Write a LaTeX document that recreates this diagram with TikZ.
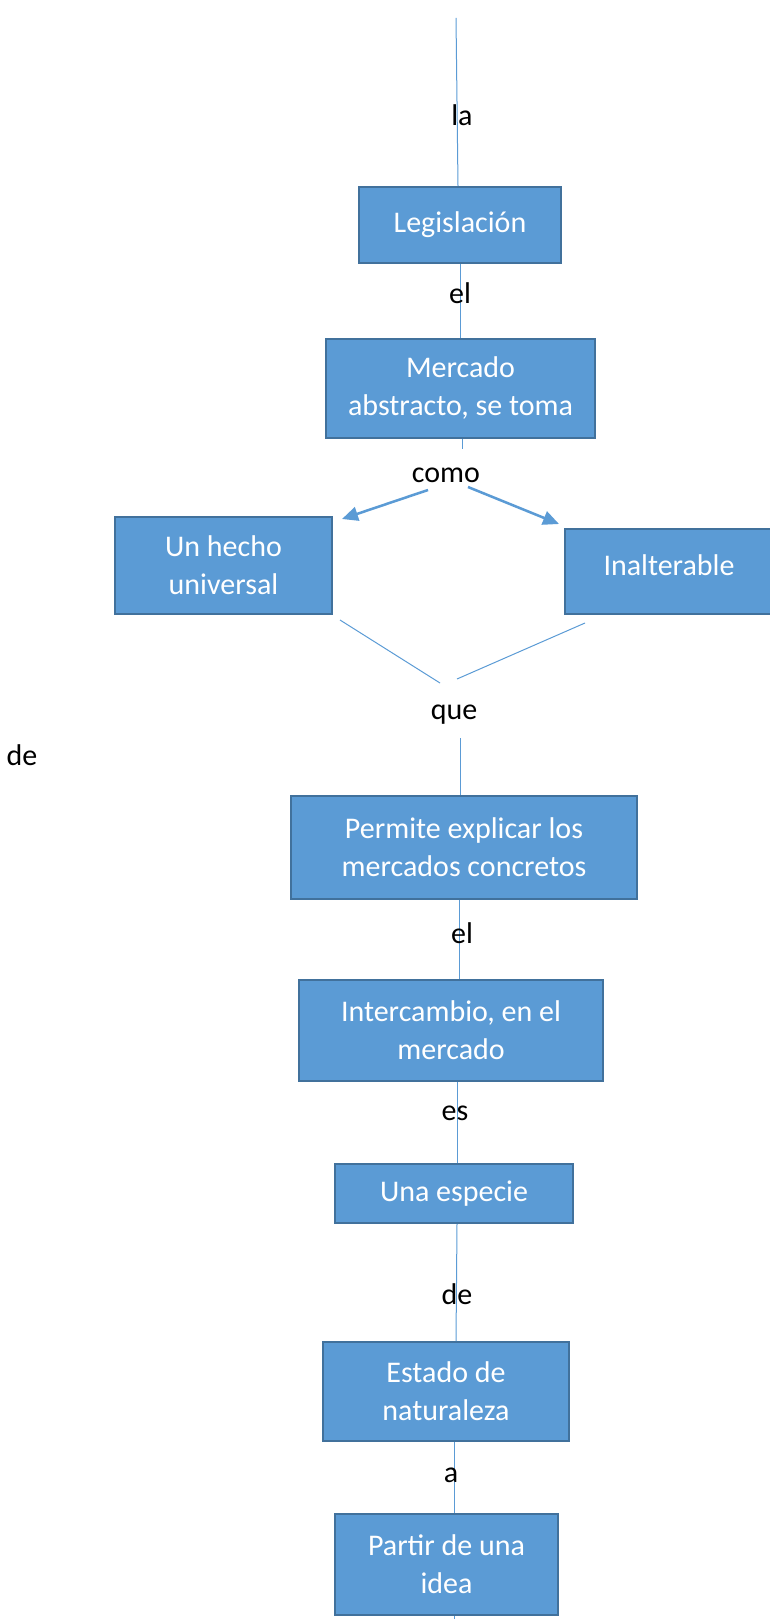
\documentclass[tikz,border=0pt]{standalone}
\usepackage{fontspec}
\setmainfont{Carlito}
\usetikzlibrary{arrows.meta}
\definecolor{boxfill}{HTML}{5B9BD5}
\definecolor{boxedge}{HTML}{41719C}
\definecolor{linkc}{HTML}{5B9BD5}
\begin{document}
\begin{tikzpicture}[x=0.75pt,y=-0.75pt,
  box/.style={draw=boxedge, line width=1.5pt, fill=boxfill, text=white, align=center,
    inner sep=0pt, font=\fontsize{22.5}{28.5}\selectfont},
  lbl/.style={text=black, inner sep=0pt, font=\fontsize{22.5}{28.5}\selectfont},
  link/.style={draw=linkc, line width=0.75pt},
  arr/.style={draw=linkc, line width=1.9pt, -{Triangle[length=12pt,width=10.5pt]}}]
\useasboundingbox (0,0) rectangle (769,1619);
\coordinate (top) at (456,18);
\coordinate (mstub) at (462,449);
\coordinate (ca1) at (428,490);
\coordinate (ca1t) at (342,519);
\coordinate (ca2) at (468,487);
\coordinate (ca2t) at (559,524);
\coordinate (v1a) at (340,620);
\coordinate (v1b) at (440,683);
\coordinate (v2a) at (585,623);
\coordinate (v2b) at (457,679);
\coordinate (qs) at (460,738);
\coordinate (bot) at (454,1619);

% boxes (sizes in px, 1px = 0.75pt)
\node[box, minimum width=0.75*202pt, minimum height=0.75*76pt] (leg) at (460,225) {\raisebox{2pt}{Legislación}};
\node[box, minimum width=0.75*269pt, minimum height=0.75*99pt] (merc) at (460.5,388.5) {Mercado\\abstracto, se toma};
\node[box, minimum width=0.75*217pt, minimum height=0.75*97pt] (hecho) at (223.5,565.5) {Un hecho\\universal};
\node[box, minimum width=0.75*208pt, minimum height=0.75*85pt] (inal) at (669,571.5) {\raisebox{9.5pt}{Inalterable}};
\node[box, minimum width=0.75*346pt, minimum height=0.75*103pt] (perm) at (464,847.5) {Permite explicar los\\mercados concretos};
\node[box, minimum width=0.75*304pt, minimum height=0.75*101pt] (inter) at (451,1030.5) {Intercambio, en el\\mercado};
\node[box, minimum width=0.75*238pt, minimum height=0.75*59pt] (una) at (454,1193.5) {\raisebox{-2pt}{Una especie}};
\node[box, minimum width=0.75*246pt, minimum height=0.75*99pt] (est) at (446,1391.5) {Estado de\\naturaleza};
\node[box, minimum width=0.75*223pt, minimum height=0.75*101pt] (part) at (446.5,1564.5) {Partir de una\\idea};

% connectors
\draw[link] (top) -- (458,0 |- leg.north);
\draw[link] (460,0 |- leg.south) -- (460,0 |- merc.north);
\draw[link] (462,0 |- merc.south) -- (mstub);
\draw[arr] (ca1) -- (ca1t);
\draw[arr] (ca2) -- (ca2t);
\draw[link] (v1a) -- (v1b);
\draw[link] (v2a) -- (v2b);
\draw[link] (qs) -- (460,0 |- perm.north);
\draw[link] (459,0 |- perm.south) -- (459,0 |- inter.north);
\draw[link] (457,0 |- inter.south) -- (457,0 |- una.north);
\draw[link] (457,0 |- una.south) -- (456,0 |- est.north);
\draw[link] (454,0 |- est.south) -- (454,0 |- part.north);
\draw[link] (454,0 |- part.south) -- (bot);

% labels
\node[lbl] (lla) at (462,115) {la};
\node[lbl] (lel1) at (460,293) {el};
\node[lbl] (lcomo) at (446,475) {como};
\node[lbl] (lque) at (454,715) {que};
\node[lbl] (lde1) at (22,755) {de};
\node[lbl] (lel2) at (462,933) {el};
\node[lbl] (les) at (455,1113) {es};
\node[lbl] (lde2) at (457,1294) {de};
\node[lbl] (la) at (451,1475) {a};
\end{tikzpicture}
\end{document}
